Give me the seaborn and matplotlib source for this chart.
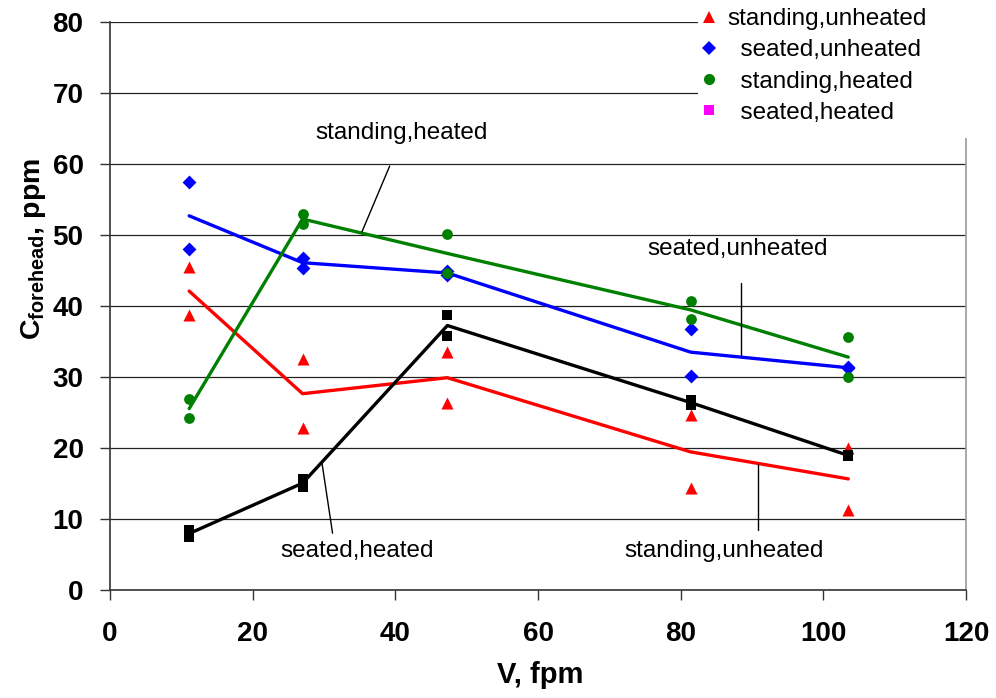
import matplotlib
matplotlib.use("Agg")
import matplotlib.pyplot as plt
from matplotlib.lines import Line2D
from matplotlib.patches import Rectangle
import numpy as np
import pandas as pd
import seaborn as sns

# Air speed levels (fpm)
speeds = [11.1, 27.0, 47.3, 81.4, 103.5]

# Two measurements per speed for each posture / heating condition (ppm)
standing_unheated_a = [45.5, 32.5, 33.5, 24.6, 20.0]
standing_unheated_b = [38.7, 22.8, 26.3, 14.3, 11.3]
seated_unheated_a = [57.4, 46.8, 44.9, 36.8, 31.4]
seated_unheated_b = [48.0, 45.4, 44.4, 30.2, 31.2]
standing_heated_a = [26.9, 53.0, 50.1, 40.7, 35.6]
standing_heated_b = [24.2, 51.5, 44.7, 38.2, 30.0]
seated_heated_a = [8.5, 15.6, 38.7, 26.8, 19.0]
seated_heated_b = [7.4, 14.5, 35.8, 26.0, 18.9]

groups = ["standing,unheated", "seated,unheated", "standing,heated", "seated,heated"]
series = {
    "standing,unheated": (standing_unheated_a, standing_unheated_b),
    "seated,unheated": (seated_unheated_a, seated_unheated_b),
    "standing,heated": (standing_heated_a, standing_heated_b),
    "seated,heated": (seated_heated_a, seated_heated_b),
}

rows = []
for g in groups:
    for vals in series[g]:
        for v, c in zip(speeds, vals):
            rows.append({"V": v, "C": c, "group": g})
df = pd.DataFrame(rows)

line_colors = {"standing,unheated": "#ff0000", "seated,unheated": "#0000ff",
               "standing,heated": "#008000", "seated,heated": "#000000"}
point_markers = {"standing,unheated": "^", "seated,unheated": "D",
                 "standing,heated": "o", "seated,heated": "s"}
point_sizes = {"standing,unheated": 75, "seated,unheated": 50,
               "standing,heated": 60, "seated,heated": 55}
legend_colors = {"standing,unheated": "#ff0000", "seated,unheated": "#0000ff",
                 "standing,heated": "#008000", "seated,heated": "#ff00ff"}
legend_labels = ["standing,unheated", "  seated,unheated", "  standing,heated", "  seated,heated"]

sns.set_style("white")
plt.rcParams["font.family"] = ["Liberation Sans", "DejaVu Sans"]
plt.rcParams["mathtext.fontset"] = "custom"
plt.rcParams["mathtext.rm"] = "Liberation Sans"
plt.rcParams["mathtext.bf"] = "Liberation Sans:bold"
plt.rcParams["text.color"] = "black"
plt.rcParams["axes.labelcolor"] = "black"
plt.rcParams["xtick.color"] = "black"
plt.rcParams["ytick.color"] = "black"

fig = plt.figure(figsize=(9.96, 6.98), dpi=100)
ax = fig.add_axes([110 / 996, 1 - 590 / 698, 856 / 996, 568 / 698])

# Mean trend lines
sns.lineplot(data=df, x="V", y="C", hue="group", hue_order=groups, palette=line_colors,
             estimator="mean", errorbar=None, linewidth=2.4, legend=False, ax=ax, zorder=3)

# Individual measurements
for g in groups:
    sub = df[df["group"] == g]
    sns.scatterplot(data=sub, x="V", y="C", color=line_colors[g], marker=point_markers[g],
                    s=point_sizes[g], linewidth=0, legend=False, ax=ax, zorder=4)

ax.set_xlim(0, 120)
ax.set_ylim(0, 80)
ax.set_xticks(np.arange(0, 121, 20))
ax.set_yticks(np.arange(0, 81, 10))
ax.yaxis.grid(True, color="#222222", linewidth=0.9)
ax.xaxis.grid(False)
ax.set_axisbelow(True)

for side in ["left", "bottom"]:
    ax.spines[side].set_color("#333333")
    ax.spines[side].set_linewidth(1.2)
ax.spines["top"].set_visible(False)
ax.spines["right"].set_color("#999999")
ax.spines["right"].set_linewidth(1.2)

ax.xaxis.set_ticks_position("bottom")
ax.yaxis.set_ticks_position("left")
ax.tick_params(axis="both", which="major", direction="out", length=7, width=1,
               color="#333333", labelcolor="black", labelsize=20)
ax.tick_params(axis="x", pad=15)
ax.tick_params(axis="y", pad=12)
for lab in ax.get_xticklabels() + ax.get_yticklabels():
    lab.set_fontweight("bold")

ax.set_xlabel("V, fpm", fontsize=21, fontweight="bold", color="black")
ax.xaxis.set_label_coords(0.502, -0.125)
ax.set_ylabel(r"$\mathbf{C}_{\mathbf{forehead}}$, ppm", fontsize=20.5, fontweight="bold",
              color="black")
ax.yaxis.set_label_coords(-0.073, 0.60)

# Series call-outs with leader lines
label_kw = dict(fontsize=17.5, ha="center", va="center", color="black")
ax.text(40.9, 64.4, "standing,heated", **label_kw)
ax.plot([39.2, 35.3], [59.7, 50.4], color="black", linewidth=1.0, zorder=5)
ax.text(88.0, 48.0, "seated,unheated", **label_kw)
ax.plot([88.4, 88.4], [43.2, 32.9], color="black", linewidth=1.0, zorder=5)
ax.text(34.6, 5.5, "seated,heated", **label_kw)
ax.plot([29.7, 31.2], [18.0, 8.0], color="black", linewidth=1.0, zorder=5)
ax.text(86.1, 5.5, "standing,unheated", **label_kw)
ax.plot([90.9, 90.9], [17.8, 8.4], color="black", linewidth=1.0, zorder=5)

# Legend panel in the upper right
panel = Rectangle((698 / 996, 1 - 138 / 698), 298 / 996, 138 / 698, transform=fig.transFigure,
                  facecolor="white", edgecolor="none", zorder=10)
fig.patches.append(panel)

legend_sizes = {"standing,unheated": 9, "seated,unheated": 7.5,
                "standing,heated": 8, "seated,heated": 7}
handles = [Line2D([], [], linestyle="none", marker=point_markers[g], color=legend_colors[g],
                  markersize=legend_sizes[g], markeredgewidth=0) for g in groups]
leg = fig.legend(handles, legend_labels, loc="upper left",
                 bbox_to_anchor=(698 / 996, 1 - 8 / 698), frameon=False, fontsize=17.5,
                 borderpad=0.0, borderaxespad=0.0, handlelength=0.9, handletextpad=0.3,
                 labelspacing=0.38)
leg.set_zorder(11)
for t in leg.get_texts():
    t.set_color("black")

fig.savefig("out.png", dpi=100, facecolor="white")
